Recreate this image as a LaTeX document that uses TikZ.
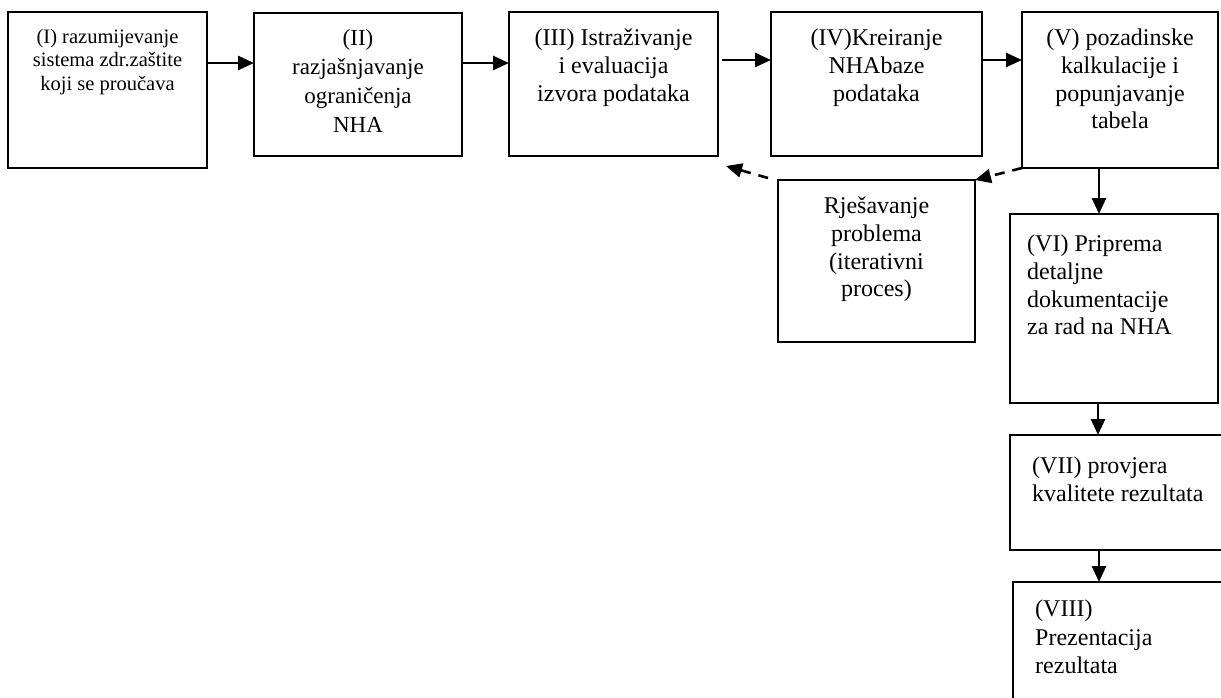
\documentclass[tikz,border=0pt]{standalone}
\usepackage{fontspec}
\setmainfont{Liberation Serif}
\usetikzlibrary{arrows.meta,calc}
\begin{document}
\begin{tikzpicture}[x=1pt,y=-1pt,
  box/.style={draw,line width=1.8pt,inner sep=0pt,outer sep=0pt,anchor=north west},
  txt/.style={inner sep=0pt,anchor=north,align=center,font=\fontsize{24}{27.6}\selectfont},
  ltxt/.style={inner sep=0pt,anchor=north west,align=left,font=\fontsize{24}{27.6}\selectfont},
  arr/.style={line width=2.6pt,-{Triangle[length=16pt,width=14pt]}},
  darr/.style={line width=2.6pt,dash pattern=on 10pt off 8pt,-{Triangle[length=16pt,width=14pt]}}]
\useasboundingbox (0,0) rectangle (1221,698);
% boxes
\node[box,minimum width=199pt,minimum height=156pt] (b1) at (8,12) {};
\node[box,minimum width=208pt,minimum height=143pt] (b2) at (254,13) {};
\node[box,minimum width=209pt,minimum height=144pt] (b3) at (509,12) {};
\node[box,minimum width=211pt,minimum height=144pt] (b4) at (771,12) {};
\node[box,minimum width=196pt,minimum height=156pt] (b5) at (1022,12) {};
\node[box,minimum width=197pt,minimum height=162pt] (pr) at (778,180) {};
\node[box,minimum width=208pt,minimum height=189pt] (b6) at (1010,214) {};
\node[box,minimum width=220pt,minimum height=115pt] (b7) at (1010,435) {};
\node[box,minimum width=217pt,minimum height=140pt] (b8) at (1013,582) {};
% texts
\node[txt,font=\fontsize{20.5}{23.5}\selectfont] (t1) at (107.5,29) {(I) razumijevanje\\sistema zdr.zaštite\\koji se proučava};
\node[txt,font=\fontsize{23}{29}\selectfont] (t2) at (358,29) {(II)\\razjašnjavanje\\ograničenja\\NHA};
\node[txt] (t3) at (613.5,29) {(III) Istraživanje\\i evaluacija\\izvora podataka};
\node[txt] (t4) at (876.5,29) {(IV)Kreiranje\\NHAbaze\\podataka};
\node[txt] (t5) at (1120,29) {(V) pozadinske\\kalkulacije i\\popunjavanje\\tabela};
\node[txt] (tp) at (876.5,197) {Rješavanje\\problema\\(iterativni\\proces)};
\node[ltxt] (t6) at (1027,235) {(VI) Priprema\\detaljne\\dokumentacije\\za rad na NHA};
\node[ltxt] (t7) at (1032,457) {(VII) provjera\\kvalitete rezultata};
\node[ltxt,font=\fontsize{24}{28.5}\selectfont] (t8) at (1035,600) {(VIII)\\Prezentacija\\rezultata};
% arrows
\draw[arr] (b1.east |- 0,63) -- (b2.west |- 0,63);
\draw[arr] (b2.east |- 0,63) -- (b3.west |- 0,63);
\draw[arr] ($(b3.east |- 0,60)+(4,0)$) -- (b4.west |- 0,60);
\draw[arr] (b4.east |- 0,60) -- (b5.west |- 0,60);
\draw[arr] (b5.south -| 1099,0) -- (b6.north -| 1099,0);
\draw[arr] (b6.south -| 1098,0) -- (b7.north -| 1098,0);
\draw[arr] (b7.south -| 1099,0) -- (b8.north -| 1099,0);
\draw[darr] (b5.south west) -- (pr.north east);
\draw[darr] ($(pr.north west)+(-10,-2)$) -- ($(b3.south east)+(8,10)$);
\end{tikzpicture}
\end{document}
